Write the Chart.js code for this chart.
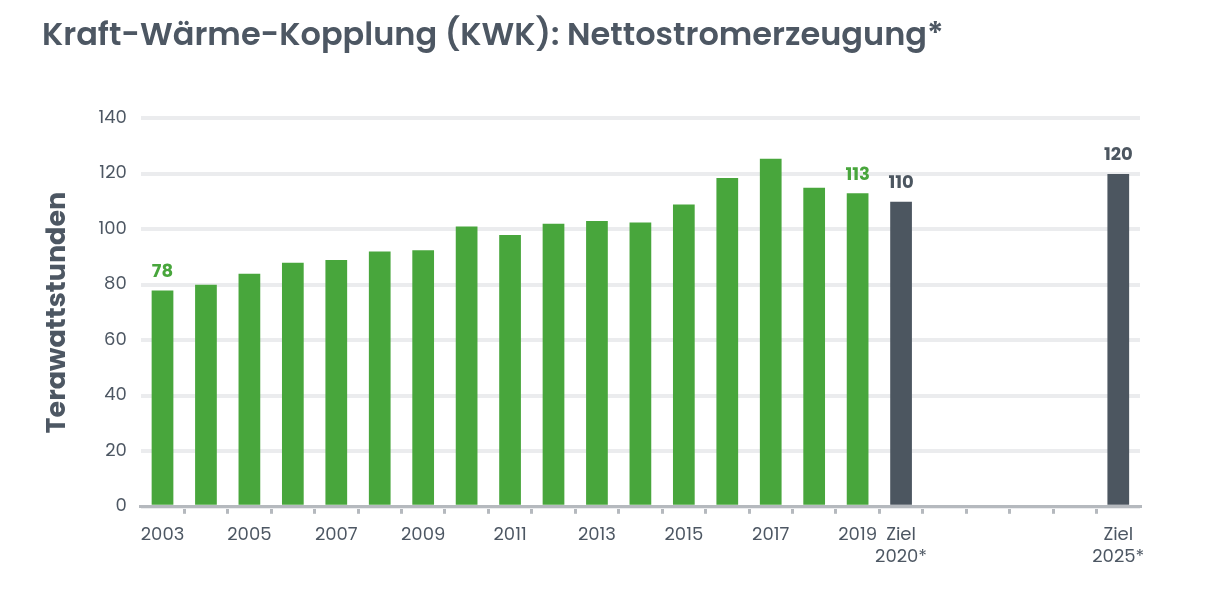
<!DOCTYPE html>
<html>
<head>
<meta charset="utf-8">
<script src="https://cdn.jsdelivr.net/npm/chart.js@4"></script>
<style>
  html, body { margin: 0; padding: 0; background: #fff; }
  #wrap { width: 1211px; height: 614px; }
</style>
</head>
<body>
<div id="wrap"><canvas id="myChart" width="1211" height="614"></canvas></div>
<script>
// Kategorien der x-Achse (2021-2024 bleiben leer)
const kategorien = [
    '2003', '2004', '2005', '2006', '2007', '2008', '2009', '2010', '2011',
    '2012', '2013', '2014', '2015', '2016', '2017', '2018', '2019',
    'Ziel 2020*', '2021', '2022', '2023', '2024', 'Ziel 2025*'
];
// Beschriftungen, die tatsächlich an der Achse stehen
const achsenLabels = [
    '2003', '', '2005', '', '2007', '', '2009', '', '2011',
    '', '2013', '', '2015', '', '2017', '', '2019',
    ['Ziel', '2020*'], '', '', '', '', ['Ziel', '2025*']
];
// Nettostromerzeugung in TWh
const istWerte = [
    78, 80, 84, 88, 89, 92, 92.5, 101, 98,
    102, 103, 102.5, 109, 118.5, 125.5, 115, 113,
    null, null, null, null, null, null
];
const zielWerte = [
    null, null, null, null, null, null, null, null, null,
    null, null, null, null, null, null, null, null,
    110, null, null, null, null, 120
];
const yTicks = [0, 20, 40, 60, 80, 100, 120, 140];
// welche Balken eine Zahl bekommen
const istBeschriftet = [0, 16];

const FONT = 'Poppins, "Noto Sans", sans-serif';
const GRUEN = '#48a63c';
const DUNKEL = '#4c5660';
const TEXT = '#4d5763';

// kleines Plugin für die Werte über den Balken
const wertLabels = {
    id: 'wertLabels',
    afterDatasetsDraw(chart) {
        const c = chart.ctx;
        c.save();
        c.font = 'bold 18px ' + FONT;
        c.textAlign = 'center';
        c.textBaseline = 'bottom';
        chart.data.datasets.forEach((ds, di) => {
            const meta = chart.getDatasetMeta(di);
            meta.data.forEach((bar, i) => {
                if (ds.data[i] == null) return;
                if (di === 0 && !istBeschriftet.includes(i)) return;
                c.fillStyle = di === 0 ? GRUEN : DUNKEL;
                c.fillText(String(ds.data[i]), bar.x, bar.y - 9);
            });
        });
        c.restore();
    }
};

const ctx = document.getElementById('myChart').getContext('2d');
const myChart = new Chart(ctx, {
    type: 'bar',
    data: {
        labels: kategorien,
        datasets: [{
            label: 'Ist',
            data: istWerte,
            backgroundColor: GRUEN,
            grouped: false,
            categoryPercentage: 1,
            barPercentage: 0.5
        }, {
            label: 'Ziel',
            data: zielWerte,
            backgroundColor: DUNKEL,
            grouped: false,
            categoryPercentage: 1,
            barPercentage: 0.5
        }]
    },
    options: {
        responsive: false,
        animation: false,
        layout: {
            padding: { top: 0, right: 71, bottom: 35, left: 42 }
        },
        plugins: {
            legend: { display: false },
            tooltip: { enabled: false },
            title: {
                display: true,
                text: 'Kraft-Wärme-Kopplung (KWK): Nettostromerzeugung*',
                align: 'start',
                color: TEXT,
                font: { family: FONT, size: 32, weight: '600' },
                padding: { top: 18, bottom: 62 }
            }
        },
        scales: {
            x: {
                grid: {
                    offset: true,
                    drawOnChartArea: false,
                    drawTicks: true,
                    tickLength: 7,
                    lineWidth: 3,
                    color: (c) => (c.index > 0 ? '#b5b9be' : 'transparent')
                },
                border: { display: true, color: '#b5b9be', width: 3 },
                ticks: {
                    autoSkip: false,
                    maxRotation: 0,
                    color: TEXT,
                    padding: 11,
                    font: { family: FONT, size: 18 },
                    callback: (v, i) => achsenLabels[i]
                }
            },
            y: {
                min: 0,
                max: 140,
                afterBuildTicks: (axis) => { axis.ticks = yTicks.map(v => ({ value: v })); },
                grid: {
                    color: '#ebecee',
                    lineWidth: 4,
                    drawTicks: false
                },
                border: { display: false },
                ticks: {
                    color: TEXT,
                    padding: 14,
                    font: { family: FONT, size: 18 }
                },
                title: {
                    display: true,
                    text: 'Terawattstunden',
                    color: TEXT,
                    font: { family: FONT, size: 27, weight: 'bold' },
                    padding: { top: 0, bottom: 10 }
                }
            }
        }
    },
    plugins: [wertLabels]
});
</script>
</body>
</html>
